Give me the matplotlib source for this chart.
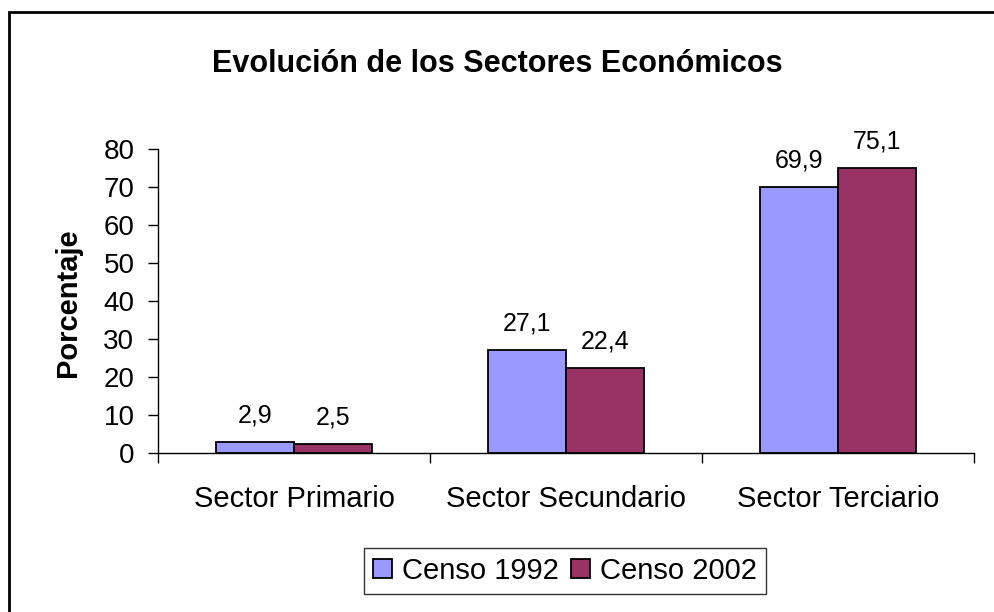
import matplotlib
matplotlib.use("Agg")
import matplotlib.pyplot as plt
import numpy as np
from matplotlib.patches import Rectangle

categories = ["Sector Primario", "Sector Secundario", "Sector Terciario"]
series_names = ["Censo 1992", "Censo 2002"]
censo_1992 = [2.9, 27.1, 69.9]
censo_2002 = [2.5, 22.4, 75.1]
colors = ["#9999FF", "#993366"]

plt.rcParams["font.family"] = ["Liberation Sans", "DejaVu Sans"]

fig = plt.figure(figsize=(9.95, 6.12), dpi=100)
ax = fig.add_axes([158 / 995, 1 - 453 / 612, (974 - 158) / 995, (453 - 149) / 612])

x = np.arange(len(categories))
width = 1 / 3.5  # Excel gap width 150%
for i, (vals, name) in enumerate(zip([censo_1992, censo_2002], series_names)):
    pos = x + (i - 0.5) * width
    bars = ax.bar(pos, vals, width, color=colors[i], edgecolor="black",
                  linewidth=1.3, label=name)
    for b, v in zip(bars, vals):
        ax.annotate(f"{v:.1f}".replace(".", ","), (b.get_x() + b.get_width() / 2, v),
                    xytext=(0, 14), textcoords="offset points",
                    ha="center", va="baseline", fontsize=18)

ax.set_xlim(-0.5, len(categories) - 0.5)
ax.set_ylim(0, 80)
ax.set_yticks(range(0, 81, 10))
ax.tick_params(axis="y", labelsize=20, length=7, width=1, direction="out", pad=10)
ax.set_xticks(x)
ax.set_xticklabels(categories, fontsize=21)
ax.tick_params(axis="x", length=0, pad=23)
ax.set_xticks(np.arange(-0.5, len(categories), 1), minor=True)
ax.tick_params(axis="x", which="minor", length=7, width=1, direction="out")
for s in ["top", "right"]:
    ax.spines[s].set_visible(False)
ax.spines["left"].set_linewidth(1)
ax.spines["bottom"].set_linewidth(1)

fig.text(68 / 995, 1 - 303 / 612, "Porcentaje", rotation=90, ha="center", va="center",
         fontsize=21, fontweight="bold")

fig.text(497 / 995, 1 - 64 / 612, "Evolución de los Sectores Económicos",
         ha="center", va="center", fontsize=22, fontweight="bold")

leg = fig.legend(loc="center", bbox_to_anchor=(565 / 995, 1 - 571 / 612), ncol=2,
                 fontsize=21, frameon=True, fancybox=False, edgecolor="black",
                 handlelength=0.65, handleheight=0.65, handletextpad=0.35,
                 columnspacing=0.4, borderpad=0.3, borderaxespad=0)
leg.get_frame().set_linewidth(1)

fig.patches.append(Rectangle((9 / 995, -0.1), 1.2, 1 - 12 / 612 + 0.1,
                             transform=fig.transFigure, fill=False,
                             edgecolor="black", linewidth=2, figure=fig))

fig.savefig("out.png", dpi=100)
